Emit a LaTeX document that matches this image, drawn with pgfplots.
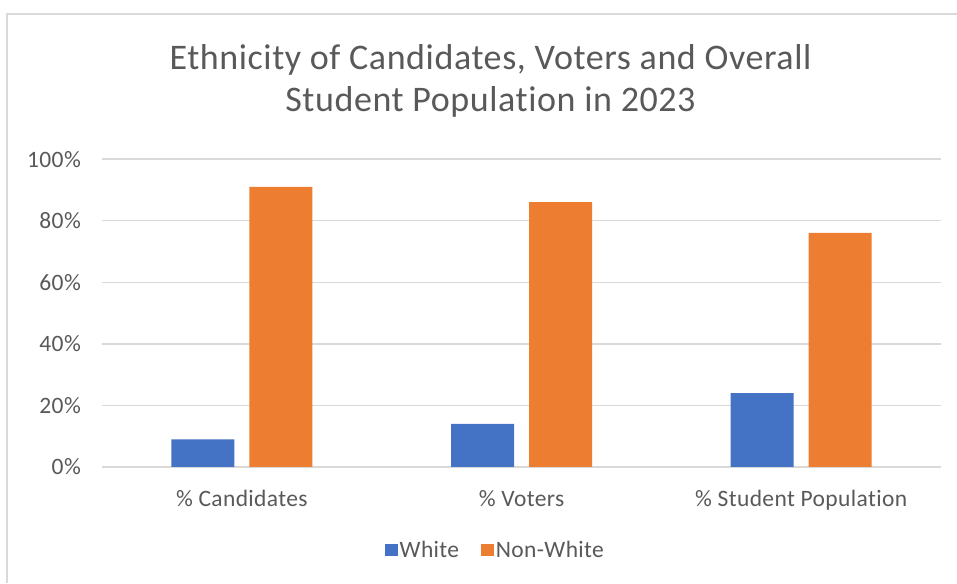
\documentclass[border=0pt]{standalone}
\usepackage{fontspec}
\setmainfont{Carlito}[LetterSpace=1.6, Ligatures=NoCommon]
\usepackage{pgfplots}
\pgfplotsset{compat=1.18}
\definecolor{wblue}{HTML}{4472C4}
\definecolor{nworange}{HTML}{ED7D31}
\definecolor{gridgray}{HTML}{D9D9D9}
\definecolor{txtgray}{HTML}{595959}
\begin{document}
\begin{tikzpicture}
\path[use as bounding box] (0pt,0pt) rectangle (957pt,583pt);
\draw[gridgray, line width=1.5pt] (7pt,0pt) -- (7pt,569pt) -- (957pt,569pt);
\node[anchor=base, text=txtgray, font=\fontsize{36}{43}\selectfont, inner sep=0pt] at (490.5pt,513.5pt) {Ethnicity of Candidates, Voters and Overall};
\node[anchor=base, text=txtgray, font=\fontsize{36}{43}\selectfont, inner sep=0pt] at (490.5pt,471pt) {Student Population in 2023};
\begin{axis}[
  at={(102pt,116pt)}, anchor=south west,
  scale only axis, width=839pt, height=307.9pt,
  xmin=-0.5, xmax=2.5, ymin=0, ymax=100,
  xtick={0,1,2},
  xticklabels={\% Candidates,\% Voters,\% Student Population},
  ytick={0,20,40,60,80,100},
  yticklabels={0\%,20\%,40\%,60\%,80\%,100\%},
  major tick length=0pt,
  axis line style={draw=none},
  ymajorgrids, grid style={gridgray, line width=1.5pt},
  tick label style={text=txtgray, font=\fontsize{23.5}{28}\selectfont, inner sep=0pt},
  x tick label style={anchor=base, yshift=-39pt},
  y tick label style={anchor=east, xshift=-21pt},
  legend columns=2,
  legend style={at={(axis description cs:0.469,-0.27)}, anchor=center, draw=none,
    font=\fontsize{23.5}{28}\selectfont, text=txtgray,
    /tikz/every even column/.append style={column sep=20pt}},
  legend cell align=left,
  clip=false,
]
\addplot[ybar, bar width=63pt, bar shift=-39pt, fill=wblue, draw=none,
  legend image code/.code={\fill[wblue] (-2pt,-6.3pt) rectangle (10.7pt,6.3pt);}]
  coordinates {(0,9) (1,14) (2,24)};
\addlegendentry{White}
\addplot[ybar, bar width=63pt, bar shift=39pt, fill=nworange, draw=none,
  legend image code/.code={\fill[nworange] (-2pt,-6.3pt) rectangle (10.7pt,6.3pt);}]
  coordinates {(0,91) (1,86) (2,76)};
\addlegendentry{Non-White}
\end{axis}
\end{tikzpicture}
\end{document}
